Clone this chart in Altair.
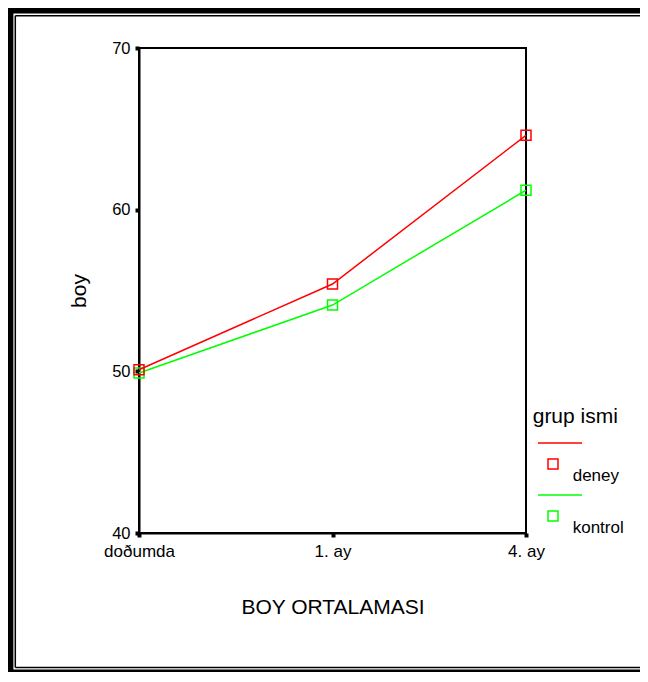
import altair as alt
import pandas as pd

# ---- data ----
categories = ["doðumda", "1. ay", "4. ay"]
groups = ["deney", "kontrol"]
deney = [50.1, 55.4, 64.6]
kontrol = [49.9, 54.1, 61.2]
colors = ["#ff0000", "#00ff00"]
y_ticks = [40, 50, 60, 70]
x_title = "BOY ORTALAMASI"
y_title = "boy"
legend_title = "grup ismi"

series = {"deney": deney, "kontrol": kontrol}
color_of = dict(zip(groups, colors))

FONT = "Liberation Sans"
W, H = 387, 485

x_enc = alt.X(
    "ay:N",
    sort=categories,
    scale=alt.Scale(type="point", domain=categories, padding=0),
    axis=alt.Axis(
        title=x_title, labelAngle=0, labelFontSize=17, labelPadding=6,
        tickSize=4, tickWidth=4, domainWidth=2, grid=False,
        titleFontSize=21, titleFontWeight="normal",
        titleX=W / 2, titleY=80, titleAlign="center", titleBaseline="alphabetic",
    ),
)
y_enc = alt.Y(
    "boy:Q",
    scale=alt.Scale(domain=[40, 70], nice=False, zero=False),
    axis=alt.Axis(
        title=y_title, values=y_ticks, labelFontSize=16.5, labelPadding=5,
        tickSize=4, tickWidth=4, domainWidth=2, grid=False,
        titleFontSize=21, titleFontWeight="normal", titleAngle=270,
        titleX=-60, titleY=H / 2, titleAlign="center", titleBaseline="middle",
    ),
)

layers = []
for g in reversed(groups):
    df = pd.DataFrame({"ay": categories, "boy": series[g], "grup": g})
    base = alt.Chart(df)
    layers.append(
        base.mark_line(strokeWidth=1.5, color=color_of[g]).encode(x=x_enc, y=y_enc)
    )
    layers.append(
        base.mark_point(shape="square", filled=False, size=100, strokeWidth=1.5,
                        color=color_of[g], opacity=1).encode(x=x_enc, y=y_enc)
    )

dummy = alt.Chart(pd.DataFrame({"d": [0]}))

# ---- outer frame (decoration) ----
def hrule(y, x1, x2, w):
    return dummy.mark_rule(color="black", strokeWidth=w).encode(
        x=alt.value(x1), x2=alt.value(x2), y=alt.value(y))

def vrule(x, y1, y2, w):
    return dummy.mark_rule(color="black", strokeWidth=w).encode(
        x=alt.value(x), y=alt.value(y1), y2=alt.value(y2))

frame = [
    vrule(-128.8, -41, 640, 6.4),
    hrule(-37.8, -132, 520, 6.6),
    vrule(-123.7, -32.3, 619.5, 1.5),
    hrule(-32.3, -123.7, 520, 1.6),
    hrule(619.5, -123.7, 520, 1.5),
    hrule(624, -132, 520, 5),
]

# ---- legend (manual, SPSS style) ----
leg = [
    dummy.mark_text(font=FONT, fontSize=21, align="left", baseline="alphabetic",
                    color="black").encode(x=alt.value(393.7), y=alt.value(375),
                                          text=alt.value(legend_title))
]
for i, g in enumerate(groups):
    dy = 52 * i
    leg.append(dummy.mark_rule(color=color_of[g], strokeWidth=1.5).encode(
        x=alt.value(399), x2=alt.value(443), y=alt.value(395 + dy)))
    leg.append(dummy.mark_point(shape="square", filled=False, size=100, strokeWidth=1.5,
                                color=color_of[g], opacity=1).encode(
        x=alt.value(414), y=alt.value(416 + dy)))
    leg.append(dummy.mark_text(font=FONT, fontSize=17, align="left", baseline="alphabetic",
                               color="black").encode(
        x=alt.value(433.7), y=alt.value(432.7 + dy), text=alt.value(g)))

chart = alt.layer(*layers, *frame, *leg).properties(
    width=W,
    height=H,
    autosize=alt.AutoSizeParams(type="none"),
    padding={"left": 131, "top": 40, "right": 114, "bottom": 139},
    background="white",
).configure_view(
    stroke="black", strokeWidth=2
).configure_axis(
    labelFont=FONT, titleFont=FONT, labelColor="black", titleColor="black",
    domainColor="black", tickColor="black",
).configure_text(font=FONT)

chart.save("out.html", embed_options={"renderer": "svg", "actions": False})
